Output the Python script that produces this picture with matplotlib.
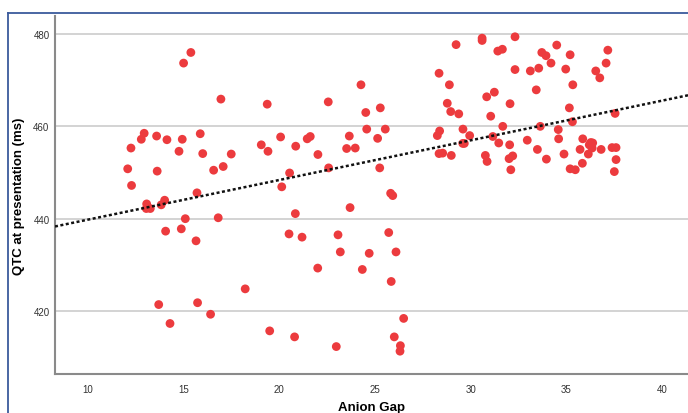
import matplotlib
matplotlib.use("Agg")
import matplotlib.pyplot as plt
from matplotlib.lines import Line2D
import numpy as np

anion_gap = [
    15.38, 15.00, 16.95, 19.37, 12.25, 12.79, 12.94, 13.59, 14.13, 14.93,
    15.87, 14.76, 16.00, 12.08, 13.62, 12.28, 16.57, 17.07, 17.49, 19.06,
    19.41, 20.07, 20.86, 20.54, 20.13, 15.70, 13.07, 13.05, 13.26, 13.83,
    14.01, 20.84, 15.09, 16.81, 14.06, 14.88, 15.65, 20.51, 21.19, 18.22,
    13.70, 15.73, 16.41, 14.29, 19.50, 20.80,
    22.56, 24.27, 24.52, 25.28, 24.57, 25.54, 21.46, 21.62, 23.66, 23.52,
    23.97, 25.14, 22.02, 22.58, 25.25, 25.82, 25.93, 23.70, 23.07, 25.72,
    23.19, 24.70, 26.10, 22.01, 24.34, 25.85, 26.50, 22.98, 26.01, 26.33,
    26.31,
    29.24, 30.60, 30.60, 32.32, 28.35, 28.89, 28.78, 28.96, 29.38, 28.26,
    28.38, 29.60, 29.95, 29.59, 29.67, 28.35, 28.54, 28.99, 31.42, 31.66,
    33.72, 33.94, 34.50, 35.20, 37.17, 37.08, 34.20, 32.32, 33.12, 33.56,
    34.97, 36.54, 36.75, 35.34, 33.43, 30.84, 31.24, 32.06, 31.05, 35.16,
    35.32, 37.55, 31.68, 33.64, 34.58, 31.16, 31.47, 32.04, 32.96, 34.60,
    35.86, 36.28, 36.38, 36.20, 36.35, 35.72, 36.82, 37.39, 37.60, 33.49,
    30.77, 30.86, 32.01, 32.20, 34.88, 36.15, 33.96, 35.84, 37.60, 35.20,
    35.47, 32.10, 37.51,
]
qtc = [
    476.0, 473.7, 465.9, 464.8, 455.3, 457.2, 458.5, 457.9, 457.1, 457.2,
    458.4, 454.6, 454.1, 450.8, 450.3, 447.2, 450.5, 451.3, 454.0, 456.0,
    454.6, 457.7, 455.7, 449.9, 446.9, 445.6, 443.2, 442.2, 442.2, 443.0,
    444.0, 441.1, 440.0, 440.2, 437.3, 437.8, 435.2, 436.7, 436.0, 424.8,
    421.4, 421.8, 419.3, 417.3, 415.7, 414.4,
    465.3, 469.0, 463.0, 464.0, 459.4, 459.4, 457.3, 457.8, 457.9, 455.2,
    455.3, 457.4, 453.9, 451.0, 451.0, 445.5, 445.0, 442.4, 436.5, 437.0,
    432.8, 432.5, 432.8, 429.3, 429.0, 426.4, 418.4, 412.3, 414.4, 412.5,
    411.3,
    477.7, 479.1, 478.6, 479.4, 471.5, 469.0, 465.0, 463.2, 462.7, 458.0,
    459.0, 459.4, 458.0, 456.3, 456.3, 454.1, 454.2, 453.7, 476.3, 476.7,
    476.0, 475.3, 477.6, 475.5, 476.5, 473.7, 473.7, 472.3, 472.0, 472.6,
    472.4, 472.0, 470.5, 469.0, 467.9, 466.4, 467.4, 464.9, 462.2, 464.0,
    461.0, 462.8, 460.0, 460.0, 459.3, 457.8, 456.4, 456.0, 457.0, 457.3,
    457.3, 456.5, 456.4, 456.0, 455.3, 455.0, 455.0, 455.4, 455.4, 455.0,
    453.7, 452.4, 453.0, 453.6, 454.0, 454.0, 452.9, 452.0, 452.8, 450.8,
    450.6, 450.6, 450.2,
]
x_ticks = [10, 15, 20, 25, 30, 35, 40]
y_ticks = [420, 440, 460, 480]
fit_intercept = 431.2
fit_slope = 0.859

plt.rcParams['font.family'] = ['Liberation Sans', 'DejaVu Sans']

fig = plt.figure(figsize=(6.88, 4.14), dpi=100)
ax = fig.add_axes([55/688, 39/414, 633/688, 358/414])

xlim = (8.28, 41.36)
ylim = (406.36, 483.9)
ax.set_xlim(*xlim)
ax.set_ylim(*ylim)

ax.set_yticks(y_ticks)
ax.set_xticks(x_ticks)
ax.yaxis.grid(True, color='#d0d0d0', linewidth=1.3)
ax.set_axisbelow(True)

ax.scatter(anion_gap, qtc, s=40, color='#ec3b3e', edgecolors='none', zorder=3)

xs = np.array(xlim)
ax.plot(xs, fit_intercept + fit_slope * xs, color='#111111', linestyle=(0, (1.2, 1.0)),
        linewidth=1.8, zorder=4)

for s in ['top', 'right']:
    ax.spines[s].set_visible(False)
for s in ['left', 'bottom']:
    ax.spines[s].set_color('#8a8a8a')
    ax.spines[s].set_linewidth(1.5)

ax.tick_params(axis='both', length=0, labelsize=7, labelcolor='#333333')
ax.tick_params(axis='y', pad=4)
ax.tick_params(axis='x', pad=7)

ax.set_ylabel('QTC at presentation (ms)', fontsize=9.5, fontweight='bold', labelpad=6)
ax.set_xlabel('Anion Gap', fontsize=9.5, fontweight='bold', labelpad=5)

# frame of the screenshot
fig.add_artist(Line2D([8/688, 8/688], [0, 1 - 14/414], transform=fig.transFigure,
                      color='#3a5a9c', linewidth=1.3))
fig.add_artist(Line2D([8/688, 1], [1 - 14/414, 1 - 14/414], transform=fig.transFigure,
                      color='#3a5a9c', linewidth=1.3))

fig.savefig('out.png', dpi=100)
